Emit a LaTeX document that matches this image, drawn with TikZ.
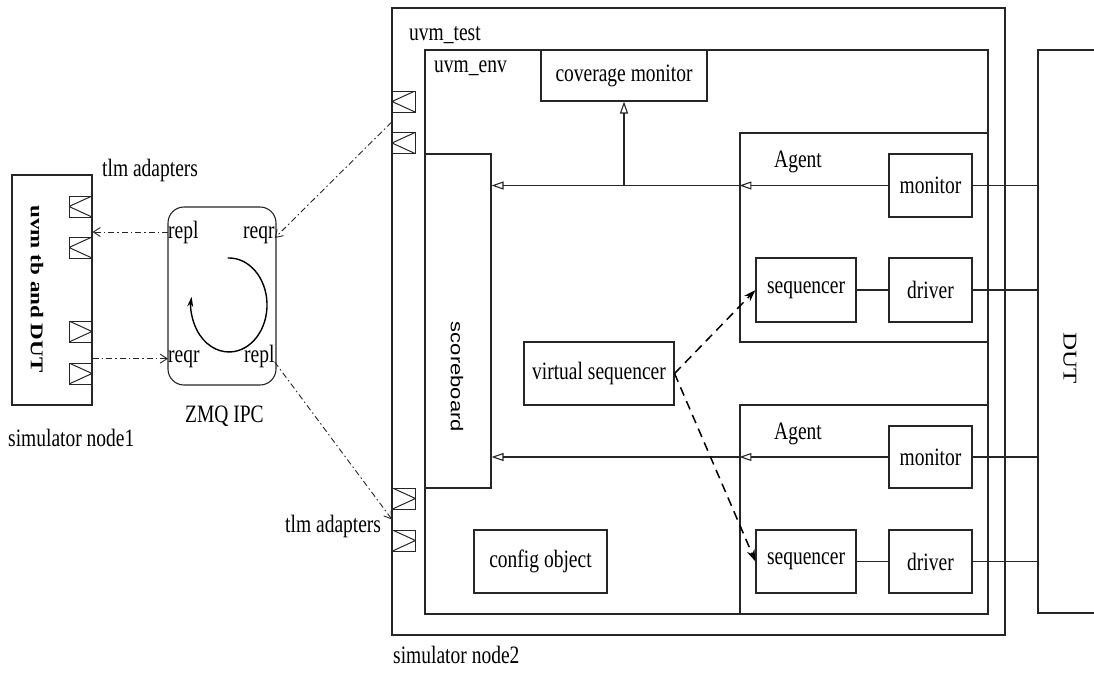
\documentclass[tikz,border=0pt]{standalone}
\usepackage{fontspec}
\usepackage{graphicx}
\setmainfont{Liberation Serif}[FakeStretch=0.78]
\newfontfamily\plainserif{Liberation Serif}
\newfontfamily\plainsans{Liberation Sans}
\usetikzlibrary{arrows.meta,calc}
\begin{document}
\begin{tikzpicture}[x=1pt,y=-1pt,
  ln/.style={draw=black!85, line width=1.1pt},
  box/.style={ln, rectangle, inner sep=0pt, font=\fontsize{25}{28}\selectfont},
  lbl/.style={inner sep=0pt, font=\fontsize{25}{28}\selectfont, anchor=base west},
  adbase/.style={draw=black!85, line width=1pt, rectangle, inner sep=0pt, minimum width=23pt, minimum height=21pt},
  adL/.style={adbase, path picture={\draw[black!85, line width=1pt] (path picture bounding box.north east) -- (path picture bounding box.west) -- (path picture bounding box.south east);}},
  adR/.style={adbase, path picture={\draw[black!85, line width=1pt] (path picture bounding box.north west) -- (path picture bounding box.east) -- (path picture bounding box.south west);}},
  tri/.style={ln, -{Triangle[open,length=12pt,width=8pt]}},
  dd/.style={draw=black!85, line width=0.9pt, dash pattern=on 6pt off 3pt on 1.5pt off 3pt, -{Straight Barb[length=7pt,width=9pt]}},
  vs/.style={draw=black, line width=1.5pt, dash pattern=on 9pt off 6pt, -{Stealth[length=12pt,width=8pt]}},
]
\useasboundingbox (0,0) rectangle (1094,672);

% simulator node2 containers
\node[box, minimum width=613pt, minimum height=627pt] (test) at (698.5,321.5) {};
\node[box, minimum width=563pt, minimum height=564pt] (env) at (706.5,332) {};
\node[lbl] (testlbl) at (409,40) {uvm\_test};
\node[lbl] (envlbl) at (434,72) {uvm\_env};

\node[box, minimum width=166pt, minimum height=51pt] (cov) at (624,75.5) {coverage monitor};
\node[box, minimum width=66pt, minimum height=334pt] (sb) at (458,321) {};
\node[inner sep=0pt, rotate=-90] (sblbl) at (457,377) {\scalebox{1}[0.78]{\plainsans\fontsize{22}{24}\selectfont scoreboard}};

% agents
\node[box, minimum width=248pt, minimum height=209pt] (ag1) at (864,237.5) {};
\node[lbl] (ag1lbl) at (774,167) {Agent};
\node[box, minimum width=83pt, minimum height=63pt] (mon1) at (930.5,185.5) {monitor};
\node[box, minimum width=100pt, minimum height=64pt] (seq1) at (806,290) {sequencer};
\node[box, minimum width=83pt, minimum height=64pt] (drv1) at (930.5,290) {driver};

\node[box, minimum width=248pt, minimum height=209pt] (ag2) at (864,509.5) {};
\node[lbl] (ag2lbl) at (774,439) {Agent};
\node[box, minimum width=83pt, minimum height=62pt] (mon2) at (930.5,457) {monitor};
\node[box, minimum width=100pt, minimum height=63pt] (seq2) at (806,561.5) {sequencer};
\node[box, minimum width=83pt, minimum height=63pt] (drv2) at (930.5,561.5) {driver};

\node[box, minimum width=150pt, minimum height=63pt] (vseq) at (599,373.5) {virtual sequencer};
\node[box, minimum width=133pt, minimum height=63pt] (cfg) at (540.5,561.5) {config object};

% DUT
\node[box, minimum width=112pt, minimum height=563pt] (dut) at (1094,331.5) {};
\node[inner sep=0pt, rotate=-90] (dutlbl) at (1070,358) {\scalebox{1}[0.78]{\plainserif\fontsize{25}{28}\selectfont DUT}};

% adapters of uvm_test
\node[adL] (ta1) at (403.5,101.5) {};
\node[adL] (ta2) at (403.5,143) {};
\node[adR] (ta3) at (404,498.5) {};
\node[adR] (ta4) at (404,540.5) {};
\coordinate (tin) at ($(ta1.south west)!0.5!(ta2.north west)$);
\coordinate (tout) at ($(ta3.south west)!0.5!(ta4.north west)$);
\node[lbl] (tlm2) at (285,532) {tlm adapters};
\node[lbl] (sim2) at (393,663) {simulator node2};

% simulator node1
\node[box, minimum width=80pt, minimum height=230pt] (tb) at (52,290) {};
\node[inner sep=0pt, rotate=-90] (tblbl) at (37,289) {\scalebox{1}[0.78]{\plainserif\bfseries\fontsize{23}{26}\selectfont uvm tb and DUT}};
\node[adL] (la1) at (80.5,206.5) {};
\node[adL] (la2) at (80.5,247.5) {};
\node[adR] (la3) at (80.5,331.5) {};
\node[adR] (la4) at (80.5,373.5) {};
\node[lbl] (tlm1) at (102,176) {tlm adapters};
\node[lbl] (sim1) at (8,446) {simulator node1};

% ZMQ IPC
\node[ln, rectangle, rounded corners=16pt, minimum width=108pt, minimum height=178pt, inner sep=0pt] (zmq) at (222,296) {};
\node[lbl] (zrepl1) at (168,238) {repl};
\node[lbl] (zreqr1) at (243,238) {reqr};
\node[lbl] (zreqr2) at (168,362) {reqr};
\node[lbl] (zrepl2) at (244,362) {repl};
\node[lbl] (zmqlbl) at (185,422) {ZMQ IPC};
\draw[draw=black, line width=1.4pt, -{Stealth[length=10pt,width=6pt]}] (227.7,258) arc[start angle=92, end angle=-190, x radius=38pt, y radius=47pt];

% dash-dot connections
\draw[dd] (zrepl1.west) -- (zrepl1.west -| tb.east);
\draw[dd] (zreqr2.west -| tb.east) -- (zreqr2.west);
\draw[dd] (tin) -- (zreqr1.base east);
\draw[dd] (zrepl2.base east) -- (tout);

% monitor paths
\draw[tri] (mon1.west) -- (mon1.west -| ag1.west);
\draw[tri] (mon1.west -| ag1.west) -- (mon1.west -| sb.east);
\draw[tri] (mon1.west -| cov.south) -- (cov.south);
\draw[tri] (mon2.west) -- (mon2.west -| ag2.west);
\draw[tri] (mon2.west -| ag2.west) -- (mon2.west -| sb.east);

% sequencer-driver
\draw[ln] (seq1) -- (drv1);
\draw[ln] (seq2) -- (drv2);

% to DUT
\draw[ln] (mon1.east) -- (mon1.east -| dut.west);
\draw[ln] (drv1.east) -- (drv1.east -| dut.west);
\draw[ln] (mon2.east) -- (mon2.east -| dut.west);
\draw[ln] (drv2.east) -- (drv2.east -| dut.west);

% virtual sequencer
\draw[vs] (vseq.east) -- (seq1.west);
\draw[vs] (vseq.east) -- (seq2.west);
\end{tikzpicture}
\end{document}
